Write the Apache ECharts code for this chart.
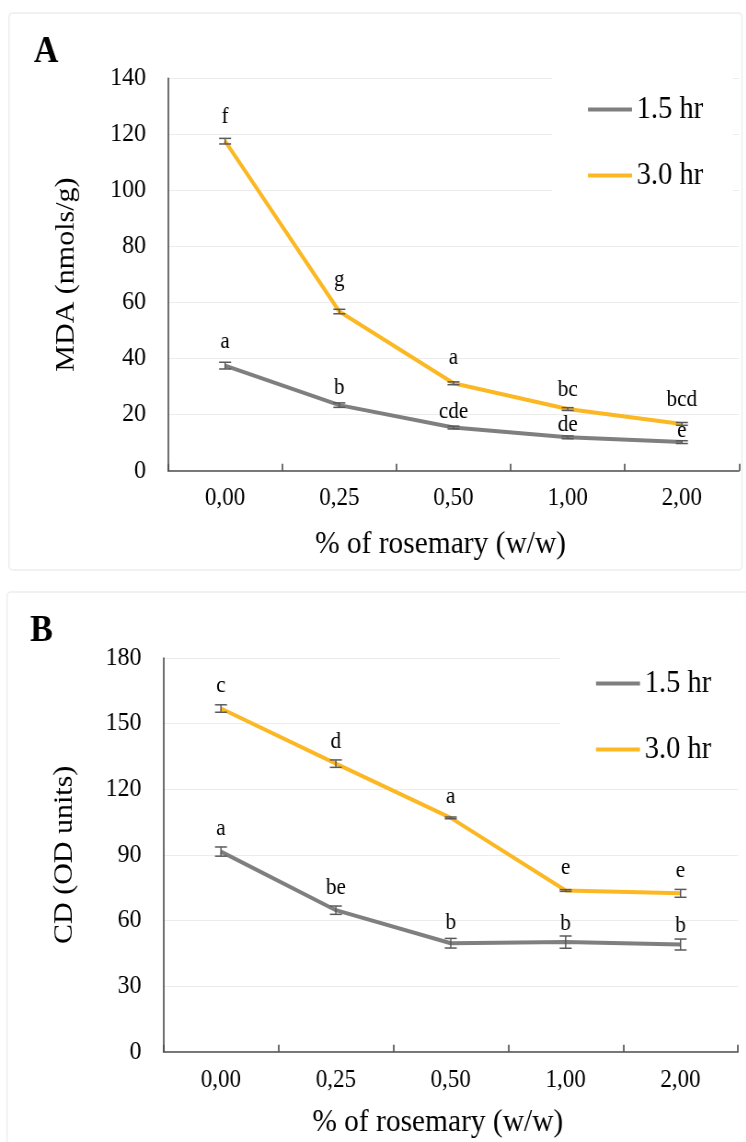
<!DOCTYPE html>
<html><head><meta charset="utf-8">
<script src="https://cdn.jsdelivr.net/npm/echarts@6/dist/echarts.min.js"></script>
<style>
html,body{margin:0;padding:0;background:#fff;overflow:hidden;width:746px;height:1142px}
#c{width:811px;height:1142px;transform:scaleX(0.92);transform-origin:0 0}
</style>
</head><body><div id="c"></div>
<script>
// ---- data ----
const categories = ['0,00', '0,25', '0,50', '1,00', '2,00'];
const seriesNames = ['1.5 hr', '3.0 hr'];
// Panel A: MDA (nmols/g)
const mdaTicks = [0, 20, 40, 60, 80, 100, 120, 140];
const mdaShort = [37.5, 23.4, 15.4, 11.9, 10.2];
const mdaLong = [117.6, 56.8, 31.2, 22.0, 16.7];
const mdaShortErr = [1.2, 0.8, 0.5, 0.5, 0.5];
const mdaLongErr = [1.0, 0.8, 0.5, 0.5, 0.5];
const mdaShortLetters = ['a', 'b', 'cde', 'de', 'e'];
const mdaLongLetters = ['f', 'g', 'a', 'bc', 'bcd'];
// Panel B: CD (OD units)
const cdTicks = [0, 30, 60, 90, 120, 150, 180];
const cdShort = [91.5, 64.7, 49.6, 50.1, 49.0];
const cdLong = [156.9, 131.7, 106.9, 73.7, 72.4];
const cdShortErr = [2.1, 1.9, 2.2, 2.8, 2.5];
const cdLongErr = [1.7, 1.7, 0.4, 0.4, 1.8];
const cdShortLetters = ['a', 'be', 'b', 'b', 'b'];
const cdLongLetters = ['c', 'd', 'a', 'e', 'e'];

// ---- layout ----
// label baseline distance above point (px)
const offA_short = [17, 10.5, 9, 5.5, 4.5];
const offA_long = [17.6, 24.5, 18.5, 12.5, 16.5];
const offB_short = [16, 14.8, 13.5, 11.5, 11.5];
const offB_long = [16, 15, 13.6, 15.8, 15];

const K = 0.92;                 // horizontal squeeze of the original figure
const X = px => px / K;         // page px -> chart px (horizontal)
const FONT = '"Liberation Serif", "Times New Roman", serif';
const GRAY = '#7F7F7F';
const GOLD = '#FCB823';
const AXIS = '#4D4D4D';

function lineSeries(name, vals, color, gi) {
  return {
    type: 'line', name: name, xAxisIndex: gi, yAxisIndex: gi,
    data: vals, symbol: 'none', smooth: false, z: 2,
    lineStyle: { color: color, width: 4 }, itemStyle: { color: color },
    emphasis: { disabled: true }, silent: true
  };
}

function errSeries(vals, errs, letters, offs, gi) {
  return {
    type: 'custom', xAxisIndex: gi, yAxisIndex: gi, z: 3, silent: true,
    data: vals.map((v, i) => [i, v, errs[i]]),
    encode: { x: 0, y: 1 },
    renderItem: function (params, api) {
      const i = api.value(0), v = api.value(1), e = api.value(2);
      const p = api.coord([i, v]);
      const hi = api.coord([i, v + e]);
      const lo = api.coord([i, v - e]);
      const w = X(6);
      const st = { stroke: '#595959', lineWidth: 1.5 };
      return {
        type: 'group', children: [
          { type: 'line', shape: { x1: p[0], y1: hi[1], x2: p[0], y2: lo[1] }, style: st },
          { type: 'line', shape: { x1: p[0] - w, y1: hi[1], x2: p[0] + w, y2: hi[1] }, style: st },
          { type: 'line', shape: { x1: p[0] - w, y1: lo[1], x2: p[0] + w, y2: lo[1] }, style: st },
          { type: 'text', x: p[0], y: p[1] - offs[i] - 7,
            style: { text: letters[i], fill: '#000', font: '23px ' + FONT, align: 'center', verticalAlign: 'middle' } }
        ]
      };
    }
  };
}

function yAxisCfg(ticks, name, gap, gi) {
  return {
    type: 'value', gridIndex: gi, min: ticks[0], max: ticks[ticks.length - 1],
    interval: ticks[1] - ticks[0],
    name: name, nameLocation: 'middle', nameGap: X(gap),
    nameTextStyle: { fontFamily: FONT, fontSize: 30, color: '#000' },
    axisLine: { show: true, lineStyle: { color: AXIS, width: 1.6 } },
    axisTick: { show: false },
    axisLabel: { fontFamily: FONT, fontSize: 26, color: '#000', margin: X(22) },
    splitLine: { show: true, lineStyle: { color: '#ECECEC', width: 1 } }
  };
}

function xAxisCfg(gap, margin, gi) {
  return {
    type: 'category', gridIndex: gi, data: categories, boundaryGap: true,
    name: '% of rosemary (w/w)', nameLocation: 'middle', nameGap: gap,
    nameTextStyle: { fontFamily: FONT, fontSize: 32, color: '#000', padding: [0, X(26), 0, 0] },
    axisLine: { show: true, lineStyle: { color: AXIS, width: 1.5 } },
    axisTick: { show: true, inside: true, length: 7, lineStyle: { color: AXIS, width: 1.6 } },
    axisLabel: { fontFamily: FONT, fontSize: 25, color: '#000', margin: margin },
    splitLine: { show: false }
  };
}

function legendCfg(left, top) {
  return {
    left: X(left), top: top, orient: 'vertical',
    data: seriesNames, selectedMode: false,
    icon: 'rect', itemWidth: X(44), itemHeight: 4, itemGap: 35,
    padding: [34, X(30), 20, X(36)],
    backgroundColor: '#fff',
    textStyle: { fontFamily: FONT, fontSize: 31, color: '#000' }
  };
}

const chart = echarts.init(document.getElementById('c'), null, { renderer: 'canvas' });
chart.setOption({
  backgroundColor: '#fff',
  animation: false,
  grid: [
    { left: X(168), top: 78.4, width: X(571), height: 392.3 },
    { left: X(163.5), top: 658, width: X(574.5), height: 393.7 }
  ],
  xAxis: [xAxisCfg(58, 15, 0), xAxisCfg(55, 16, 1)],
  yAxis: [yAxisCfg(mdaTicks, 'MDA (nmols/g)', 88, 0), yAxisCfg(cdTicks, 'CD (OD units)', 85, 1)],
  legend: [legendCfg(552, 60), legendCfg(560, 634)],
  series: [
    lineSeries(seriesNames[0], mdaShort, GRAY, 0),
    lineSeries(seriesNames[1], mdaLong, GOLD, 0),
    errSeries(mdaShort, mdaShortErr, mdaShortLetters, offA_short, 0),
    errSeries(mdaLong, mdaLongErr, mdaLongLetters, offA_long, 0),
    lineSeries(seriesNames[0], cdShort, GRAY, 1),
    lineSeries(seriesNames[1], cdLong, GOLD, 1),
    errSeries(cdShort, cdShortErr, cdShortLetters, offB_short, 1),
    errSeries(cdLong, cdLongErr, cdLongLetters, offB_long, 1)
  ],
  graphic: [
    { type: 'rect', z: -10, shape: { x: X(9), y: 13, width: X(733), height: 557, r: 4 },
      style: { fill: 'none', stroke: '#ECEEED', lineWidth: 1.5 } },
    { type: 'rect', z: -10, shape: { x: X(7), y: 592, width: X(745), height: 570, r: 4 },
      style: { fill: 'none', stroke: '#ECEEED', lineWidth: 1.5 } },
    { type: 'text', x: X(46), y: 52, style: { text: 'A', font: 'bold 37px ' + FONT, fill: '#000', align: 'center', verticalAlign: 'middle' } },
    { type: 'text', x: X(41.5), y: 631, style: { text: 'B', font: 'bold 37px ' + FONT, fill: '#000', align: 'center', verticalAlign: 'middle' } }
  ]
});
</script>
</body></html>
